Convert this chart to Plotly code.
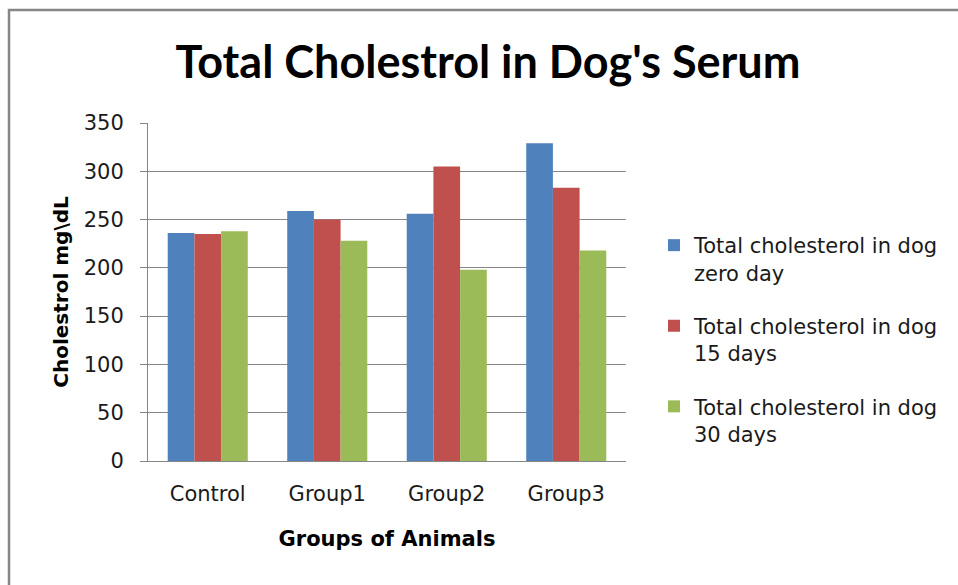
import plotly.graph_objects as go

categories = ["Control", "Group1", "Group2", "Group3"]
zero_day = [236, 259, 256, 329]
days_15 = [235, 250, 305, 283]
days_30 = [238, 228, 198, 218]
series_names = ["Total cholesterol in dog<br>zero day",
                "Total cholesterol in dog<br>15 days",
                "Total cholesterol in dog<br>30 days"]
colors = ["#4F81BD", "#C0504D", "#9BBB59"]
y_ticks = [0, 50, 100, 150, 200, 250, 300, 350]

FONT = "DejaVu Sans"
TFONT = "Lato"
fig = go.Figure()
for i, (name, vals, c) in enumerate(zip(series_names, [zero_day, days_15, days_30], colors)):
    fig.add_trace(go.Bar(x=categories, y=vals, name=name, marker_color=c,
                         marker_line_width=0, legendgroup=f"g{i}"))

W, H = 958, 585
L, R, T, B = 148, 332, 123, 124
PW, PH = W - L - R, H - T - B


def px(x):
    return (x - L) / PW


def py(y):
    return (H - B - y) / PH


fig.update_layout(
    width=W, height=H,
    margin=dict(l=L, r=R, t=T, b=B, autoexpand=False),
    paper_bgcolor="white", plot_bgcolor="white",
    barmode="group", bargap=0.33, bargroupgap=0,
    font=dict(family=FONT, size=21, color="black"),
    title=dict(text="<b>Total Cholestrol in Dog's Serum</b>",
               x=488 / W, xanchor="center", y=1 - 62 / H, yanchor="middle",
               font=dict(family=TFONT, size=45, color="black")),
    legend=dict(x=px(654), xanchor="left", y=py(225), yanchor="top",
                font=dict(family=FONT, size=21, color="#1a1a1a"),
                valign="top", tracegroupgap=23,
                bgcolor="rgba(0,0,0,0)"),
    xaxis=dict(showline=True, linecolor="#868686", linewidth=1,
               ticks="", ticklabelstandoff=14, tickfont=dict(size=21, color="#1a1a1a"),
               title=dict(text="<b>Groups of Animals</b>", font=dict(size=21), standoff=26)),
    yaxis=dict(range=[0, 350], tickvals=y_ticks, showline=True,
               linecolor="#868686", linewidth=1, ticks="outside", ticklen=7,
               tickcolor="#868686", gridcolor="#868686", gridwidth=1,
               ticklabelstandoff=12,
               tickfont=dict(size=21, color="#1a1a1a"), zeroline=False,
               title=dict(text="<b>Cholestrol mg\\dL</b>", font=dict(size=20), standoff=9)),
    shapes=[dict(type="rect", xref="paper", yref="paper",
                 x0=px(9), x1=px(990),
                 y0=py(620), y1=py(10),
                 line=dict(color="#868686", width=2.5), fillcolor="rgba(0,0,0,0)",
                 layer="below")],
)
fig.write_html("out.html", config={"displayModeBar": False},
               post_script="document.body.style.margin='0';")
